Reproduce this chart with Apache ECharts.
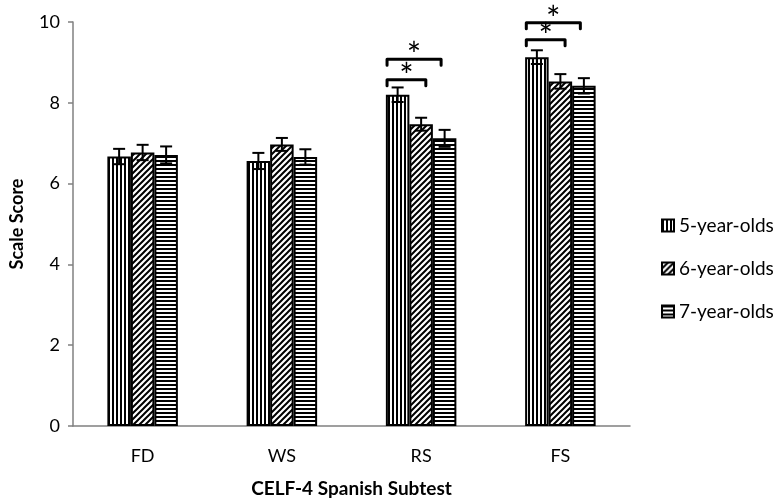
<!DOCTYPE html>
<html>
<head>
<meta charset="utf-8">
<script src="https://cdn.jsdelivr.net/npm/echarts@6/dist/echarts.min.js"></script>
<style>
html,body{margin:0;padding:0;background:#fff;}
#chart{width:776px;height:503px;}
</style>
</head>
<body>
<div id="chart"></div>
<script>
// ---- data ----
var categories = ['FD', 'WS', 'RS', 'FS'];
var seriesNames = ['5-year-olds', '6-year-olds', '7-year-olds'];
var scores5 = [6.67, 6.56, 8.20, 9.13];
var scores6 = [6.77, 6.97, 7.47, 8.53];
var scores7 = [6.71, 6.66, 7.12, 8.42];
var err5 = [0.19, 0.20, 0.18, 0.17];
var err6 = [0.19, 0.16, 0.16, 0.18];
var err7 = [0.21, 0.19, 0.21, 0.19];
// significance brackets: category, first group, last group, bracket level (scale units)
var sigCats = ['RS', 'RS', 'FS', 'FS'];
var sigFrom = [0, 0, 0, 0];
var sigTo = [1, 2, 1, 2];
var sigLevel = [8.57, 9.08, 9.56, 9.98];
var yTicks = [0, 2, 4, 6, 8, 10];

// ---- patterns ----
function makePattern(kind) {
  var c = document.createElement('canvas');
  var ctx;
  if (kind === 'v') {
    c.width = 4; c.height = 4; ctx = c.getContext('2d');
    ctx.fillStyle = '#fff'; ctx.fillRect(0, 0, 4, 4);
    ctx.fillStyle = '#000'; ctx.fillRect(0, 0, 2, 4);
  } else if (kind === 'h') {
    c.width = 4; c.height = 4; ctx = c.getContext('2d');
    ctx.fillStyle = '#fff'; ctx.fillRect(0, 0, 4, 4);
    ctx.fillStyle = '#000'; ctx.fillRect(0, 0, 4, 2);
  } else {
    c.width = 6; c.height = 6; ctx = c.getContext('2d');
    ctx.fillStyle = '#fff'; ctx.fillRect(0, 0, 6, 6);
    ctx.strokeStyle = '#000'; ctx.lineWidth = 2;
    ctx.beginPath();
    ctx.moveTo(-1, 7); ctx.lineTo(7, -1);
    ctx.moveTo(-4, 4); ctx.lineTo(4, -4);
    ctx.moveTo(2, 10); ctx.lineTo(10, 2);
    ctx.stroke();
  }
  return { image: c, repeat: 'repeat' };
}
var patterns = [makePattern('v'), makePattern('d'), makePattern('h')];

var FONT = 'Lato';
var BAR_W = 23.5;
var allScores = [scores5, scores6, scores7];
var allErr = [err5, err6, err7];

var series = [];
allScores.forEach(function (vals, i) {
  series.push({
    name: seriesNames[i],
    type: 'bar',
    data: vals,
    barWidth: BAR_W,
    barGap: '0%',
    itemStyle: { color: patterns[i], borderColor: '#000', borderWidth: 2 },
    z: 2
  });
});
allScores.forEach(function (vals, i) {
  series.push({
    type: 'custom',
    name: 'err' + i,
    data: vals.map(function (v, k) { return [k, v - allErr[i][k], v + allErr[i][k]]; }),
    encode: { x: 0, y: [1, 2] },
    z: 5,
    renderItem: function (params, api) {
      var lo = api.coord([api.value(0), api.value(1)]);
      var hi = api.coord([api.value(0), api.value(2)]);
      var x = lo[0] + (i - 1) * BAR_W;
      var cap = 6;
      var st = { stroke: '#000', lineWidth: 2 };
      return {
        type: 'group',
        children: [
          { type: 'line', shape: { x1: x, y1: lo[1], x2: x, y2: hi[1] }, style: st },
          { type: 'line', shape: { x1: x - cap, y1: hi[1], x2: x + cap, y2: hi[1] }, style: st },
          { type: 'line', shape: { x1: x - cap, y1: lo[1], x2: x + cap, y2: lo[1] }, style: st }
        ]
      };
    },
    silent: true
  });
});
series.push({
  type: 'custom',
  name: 'sig',
  data: sigCats.map(function (c, k) { return [categories.indexOf(c), sigLevel[k], sigFrom[k], sigTo[k]]; }),
  encode: { x: 0, y: 1 },
  z: 6,
  clip: false,
  silent: true,
  renderItem: function (params, api) {
    var p = api.coord([api.value(0), api.value(1)]);
    var from = api.value(2), to = api.value(3);
    var x1 = p[0] + (from - 1) * BAR_W - 0.45 * BAR_W;
    var x2 = p[0] + (to - 1) * BAR_W + (to === 1 ? 0.2 : -0.15) * BAR_W;
    var y = p[1];
    return {
      type: 'group',
      children: [
        { type: 'polyline', shape: { points: [[x1, y + 6], [x1, y], [x2, y], [x2, y + 6]] },
          style: { stroke: '#000', lineWidth: 3, fill: null, lineJoin: 'round', lineCap: 'round' } },
        { type: 'text', x: (x1 + x2) / 2, y: y - 3,
          style: { text: '*', font: '34px ' + FONT, fill: '#000', textAlign: 'center', textVerticalAlign: 'middle' } }
      ]
    };
  }
});

var chart = echarts.init(document.getElementById('chart'), null, { renderer: 'canvas' });
chart.setOption({
  animation: false,
  backgroundColor: '#fff',
  textStyle: { fontFamily: FONT },
  grid: { left: 71, right: 146, top: 22, bottom: 76 },
  legend: {
    data: seriesNames,
    orient: 'vertical',
    left: 656,
    top: 211,
    itemWidth: 12,
    itemHeight: 12,
    itemGap: 24,
    icon: 'rect',
    textStyle: { fontFamily: FONT, fontSize: 19, color: '#000' },
    selectedMode: false
  },
  xAxis: {
    type: 'category',
    data: categories,
    name: 'CELF-4 Spanish Subtest',
    nameLocation: 'middle',
    nameGap: 53,
    nameTextStyle: { fontFamily: FONT, fontSize: 19, fontWeight: 'bold', color: '#000' },
    axisLine: { lineStyle: { color: '#808080', width: 1.5 } },
    axisTick: { show: false },
    axisLabel: { fontFamily: FONT, fontSize: 18, color: '#000', margin: 21 },
    splitLine: { show: false }
  },
  yAxis: {
    type: 'value',
    min: yTicks[0],
    max: yTicks[yTicks.length - 1],
    interval: 2,
    name: 'Scale Score',
    nameLocation: 'middle',
    nameGap: 47,
    nameTextStyle: { fontFamily: FONT, fontSize: 18, fontWeight: 'bold', color: '#000' },
    axisLine: { show: true, lineStyle: { color: '#808080', width: 1.5 } },
    axisTick: { show: true, inside: false, length: 5, lineStyle: { color: '#808080', width: 1.5 } },
    axisLabel: { fontFamily: FONT, fontSize: 18, color: '#000', margin: 13 },
    splitLine: { show: false }
  },
  series: series
});
</script>
</body>
</html>
